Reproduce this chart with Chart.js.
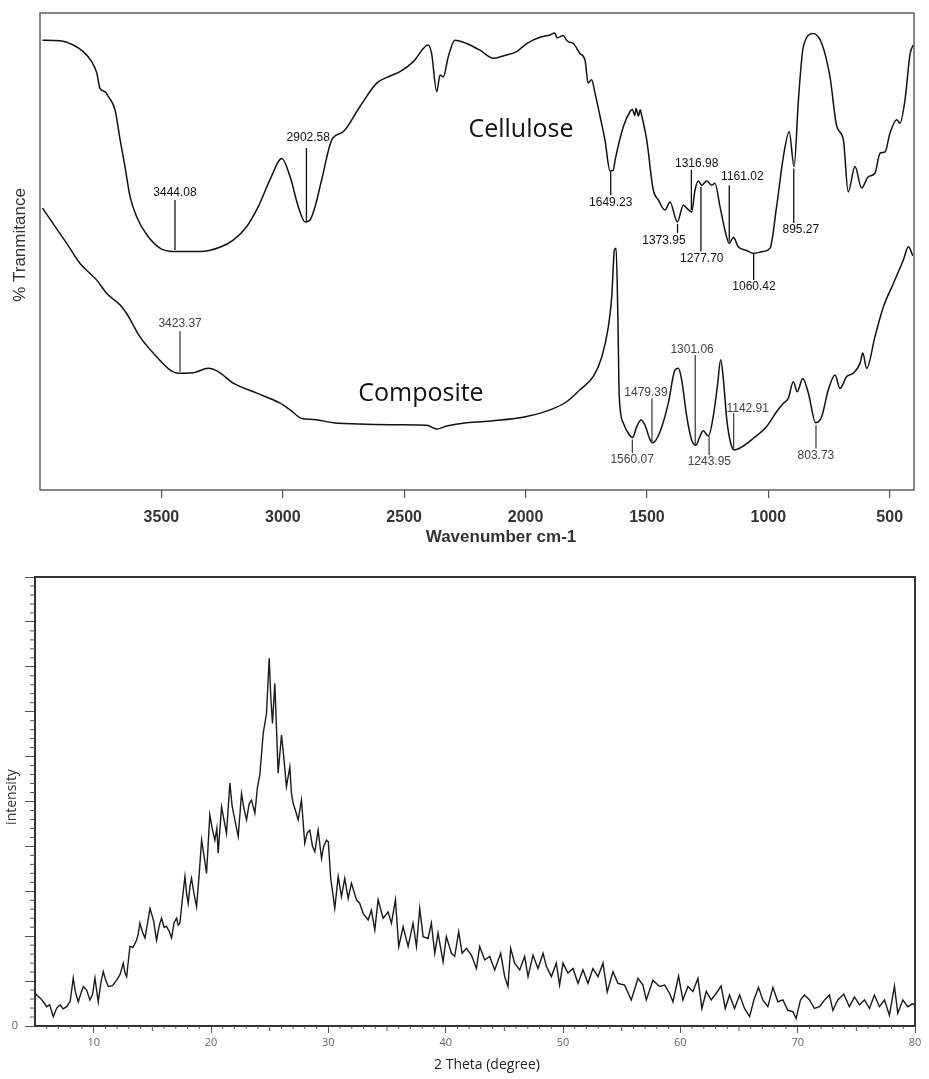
<!DOCTYPE html>
<html>
<head>
<meta charset="utf-8">
<script src="https://cdn.jsdelivr.net/npm/chart.js@4.4.1/dist/chart.umd.min.js"></script>
<style>
  body { margin: 0; background: #fff; }
  #ftir { position: absolute; left: 0; top: 0; width: 929px; height: 560px; }
  #xrd { position: absolute; left: 0; top: 560px; width: 929px; height: 519px; }
</style>
</head>
<body>
<div id="ftir"><canvas id="ftir-chart"></canvas></div>
<div id="xrd"><canvas id="xrd-chart"></canvas></div>
<script>
// FTIR: wavenumber ticks and both spectra (% transmittance)
const wnTicks = [3500, 3000, 2500, 2000, 1500, 1000, 500];

const celluloseWn = [3990, 3918, 3863, 3822, 3787, 3766, 3753, 3732, 3719, 3691, 3670, 3650, 3629, 3602, 3560, 3506, 3451, 3341, 3259, 3204,
  3149, 3101, 3053, 3004, 2970, 2936, 2908, 2888, 2867, 2840, 2798, 2751, 2682, 2613, 2558, 2517, 2462, 2401, 2387, 2366,
  2352, 2339, 2318, 2291, 2243, 2188, 2133, 2092, 2037, 1995, 1941, 1899, 1880, 1870, 1858, 1845, 1831, 1820, 1803, 1776,
  1755, 1742, 1728, 1714, 1693, 1673, 1652, 1639, 1631, 1597, 1570, 1560, 1550, 1545, 1535, 1528, 1522, 1501, 1474, 1453,
  1426, 1405, 1375, 1350, 1334, 1316, 1302, 1288, 1274, 1254, 1233, 1220, 1199, 1179, 1161, 1144, 1124, 1089, 1062, 1021,
  993, 966, 938, 914, 894, 876, 856, 815, 780, 746, 718, 691, 671, 643, 616, 588, 561, 540, 519, 499,
  471, 458, 437, 416, 403];
const celluloseT = [94.3, 94.2, 93.3, 91.9, 89.8, 87.4, 84.2, 83.5, 82.5, 79.7, 73.4, 67.8, 61.5, 57.3, 53.5, 50.7, 50.0, 50.0, 50.9, 52.4,
  55.2, 59.4, 65.0, 69.5, 65.7, 59.4, 56.2, 56.6, 59.4, 65.0, 73.4, 75.1, 80.4, 85.3, 86.8, 87.7, 89.8, 93.3, 91.5, 83.5,
  87.0, 86.6, 90.9, 94.3, 93.6, 92.2, 90.5, 91.0, 91.9, 93.6, 94.9, 95.4, 95.8, 94.8, 95.0, 95.3, 94.3, 93.9, 93.6, 91.5,
  90.1, 85.3, 86.0, 83.2, 78.3, 73.4, 66.9, 67.0, 69.2, 76.2, 79.3, 79.8, 78.5, 80.0, 78.4, 79.7, 78.6, 73.4, 62.9, 60.8,
  58.7, 60.4, 56.2, 59.7, 59.0, 58.3, 62.9, 64.8, 63.9, 64.8, 63.9, 64.3, 59.4, 54.5, 51.7, 53.0, 51.0, 50.2, 49.6, 50.0,
  50.7, 59.4, 69.9, 75.1, 67.8, 81.8, 92.9, 95.7, 93.6, 86.6, 76.2, 73.4, 62.5, 67.8, 63.3, 65.7, 66.4, 70.6, 70.9, 74.8,
  77.6, 76.9, 81.8, 91.5, 93.3];

const compositeWn = [3990, 3890, 3835, 3794, 3766, 3725, 3670, 3643, 3588, 3519, 3465, 3430, 3368, 3307, 3266, 3204, 3107, 3011, 2970, 2922,
  2874, 2792, 2654, 2517, 2407, 2366, 2325, 2243, 2133, 1995, 1899, 1831, 1776, 1721, 1686, 1659, 1645, 1634, 1627, 1620,
  1614, 1597, 1577, 1559, 1542, 1524, 1508, 1487, 1476, 1446, 1412, 1384, 1371, 1357, 1336, 1316, 1298, 1282, 1268, 1247,
  1227, 1210, 1196, 1185, 1171, 1155, 1141, 1110, 1062, 1007, 966, 938, 918, 897, 881, 858, 835, 805, 780, 753,
  725, 705, 677, 650, 622, 611, 595, 561, 526, 485, 444, 423, 405];
const compositeT = [59.1, 51.7, 47.5, 45.4, 44.0, 41.2, 38.8, 37.0, 32.1, 27.9, 25.2, 24.5, 24.6, 25.5, 24.8, 22.4, 20.3, 18.2, 16.8, 15.0,
  14.8, 14.1, 13.8, 13.7, 13.6, 12.8, 13.4, 14.1, 14.5, 15.4, 16.8, 18.5, 21.0, 23.8, 27.9, 34.2, 40.5, 50.3, 50.7, 37.0,
  19.6, 14.0, 11.9, 11.0, 13.3, 14.7, 13.6, 10.5, 9.9, 12.2, 18.2, 25.2, 25.5, 23.1, 15.4, 10.5, 9.4, 11.2, 12.4, 11.3,
  15.4, 21.7, 27.3, 23.1, 14.7, 9.8, 8.4, 9.0, 10.8, 13.3, 16.4, 18.2, 19.2, 22.7, 20.6, 23.4, 20.3, 14.1, 15.4, 21.0,
  24.1, 21.3, 23.8, 24.5, 26.6, 28.7, 25.5, 32.1, 38.4, 43.3, 48.2, 51.0, 49.1];

const cellulosePeaks = ['3444.08', '2902.58', '1649.23', '1373.95', '1316.98', '1277.70', '1161.02', '1060.42', '895.27'];
const compositePeaks = ['3423.37', '1560.07', '1479.39', '1301.06', '1243.95', '1142.91', '803.73'];

// XRD: 2 theta ticks and the pattern (intensity in tick units)
const thetaTicks = [10, 20, 30, 40, 50, 60, 70, 80];
const intensityTicks = [0, 1, 2, 3, 4, 5, 6, 7, 8, 9, 10];

const xrdTheta = [5.00, 5.14, 5.45, 5.71, 5.99, 6.25, 6.56, 6.85, 7.13, 7.40, 7.70, 8.00, 8.26, 8.45, 8.69, 8.90, 9.12, 9.40, 9.68, 9.90,
  10.11, 10.25, 10.39, 10.60, 10.82, 11.05, 11.25, 11.60, 11.96, 12.25, 12.52, 12.65, 12.81, 13.09, 13.35, 13.66, 13.80, 13.94, 14.15, 14.37,
  14.60, 14.80, 15.10, 15.36, 15.60, 15.79, 16.00, 16.21, 16.45, 16.64, 16.85, 17.07, 17.20, 17.35, 17.55, 17.78, 17.92, 18.06, 18.20, 18.34,
  18.55, 18.77, 19.00, 19.20, 19.40, 19.62, 19.90, 20.10, 20.33, 20.50, 20.61, 20.90, 21.10, 21.32, 21.61, 21.80, 22.03, 22.32, 22.60, 22.80,
  23.03, 23.25, 23.45, 23.74, 23.95, 24.16, 24.45, 24.73, 24.96, 25.10, 25.24, 25.44, 25.60, 25.72, 26.01, 26.20, 26.43, 26.72, 26.85, 27.00,
  27.20, 27.43, 27.71, 27.99, 28.20, 28.42, 28.65, 28.85, 29.13, 29.42, 29.60, 29.84, 30.00, 30.20, 30.55, 30.84, 31.12, 31.40, 31.69, 31.97,
  32.40, 32.68, 32.96, 33.39, 33.67, 33.96, 34.24, 34.67, 35.09, 35.38, 35.72, 36.00, 36.37, 36.80, 37.22, 37.51, 37.79, 38.08, 38.50, 38.78,
  39.07, 39.35, 39.78, 40.06, 40.49, 40.77, 41.11, 41.40, 41.77, 42.19, 42.62, 42.90, 43.33, 43.75, 44.18, 44.69, 45.03, 45.31, 45.54, 45.88,
  46.31, 46.73, 47.02, 47.44, 47.87, 48.30, 48.58, 49.01, 49.43, 49.71, 50.00, 50.42, 50.85, 51.28, 51.70, 52.13, 52.55, 52.98, 53.41, 53.77,
  54.26, 54.68, 55.25, 55.82, 56.39, 56.81, 57.10, 57.66, 58.23, 58.66, 59.08, 59.37, 59.85, 60.22, 60.65, 61.07, 61.50, 61.84, 62.21, 62.63,
  63.06, 63.48, 63.83, 64.19, 64.62, 65.05, 65.47, 65.90, 66.27, 66.66, 67.03, 67.46, 67.89, 68.31, 68.74, 69.16, 69.59, 69.87, 70.24, 70.58,
  71.01, 71.43, 71.86, 72.29, 72.71, 73.00, 73.42, 73.93, 74.41, 74.84, 75.27, 75.69, 76.12, 76.54, 76.97, 77.40, 77.82, 78.25, 78.53, 78.96,
  79.38, 79.81, 80.00];
const xrdIntensity = [0.75, 0.69, 0.62, 0.54, 0.43, 0.47, 0.21, 0.40, 0.47, 0.38, 0.43, 0.55, 1.07, 0.75, 0.54, 0.72, 0.88, 0.80, 0.58, 0.70,
  1.07, 0.80, 0.54, 0.95, 1.21, 1.00, 0.88, 0.90, 1.02, 1.15, 1.40, 1.20, 1.10, 1.77, 1.75, 1.91, 2.05, 2.29, 2.10, 1.96,
  2.30, 2.62, 2.35, 1.91, 2.25, 2.40, 2.20, 2.22, 2.10, 1.96, 2.30, 2.40, 2.25, 2.29, 2.80, 3.33, 2.95, 2.73, 3.10, 3.29,
  2.95, 2.66, 3.40, 4.14, 3.80, 3.40, 4.70, 4.40, 4.14, 4.40, 3.85, 4.88, 4.60, 4.29, 5.41, 4.90, 4.59, 4.22, 5.18, 4.85,
  4.59, 4.95, 5.03, 4.74, 5.30, 5.59, 6.52, 6.96, 8.19, 7.30, 6.74, 7.63, 6.50, 5.63, 6.48, 6.00, 5.33, 5.77, 5.20, 4.96,
  4.80, 4.59, 5.03, 4.07, 4.30, 4.36, 4.00, 3.88, 4.36, 3.73, 4.00, 4.14, 4.10, 3.30, 2.62, 3.33, 2.88, 3.29, 2.84, 3.18,
  2.81, 2.73, 2.51, 2.36, 2.58, 2.14, 2.81, 2.40, 2.54, 2.29, 2.81, 1.77, 2.21, 1.77, 2.29, 1.77, 2.62, 1.99, 1.95, 2.29,
  1.62, 2.07, 1.43, 1.99, 1.62, 1.55, 2.10, 1.62, 1.73, 1.58, 1.28, 1.77, 1.47, 1.55, 1.25, 1.62, 1.10, 0.88, 1.73, 1.40,
  1.25, 1.55, 1.10, 1.58, 1.28, 1.62, 1.33, 1.10, 1.40, 0.91, 1.40, 1.18, 1.28, 0.95, 1.25, 0.95, 1.28, 1.10, 1.40, 0.76,
  1.21, 0.95, 0.91, 0.58, 1.06, 0.91, 0.58, 1.02, 0.88, 0.91, 0.73, 0.54, 1.11, 0.58, 0.88, 0.77, 1.06, 0.39, 0.77, 0.58,
  0.73, 0.89, 0.39, 0.69, 0.39, 0.69, 0.39, 0.21, 0.58, 0.86, 0.58, 0.43, 0.86, 0.54, 0.58, 0.35, 0.32, 0.17, 0.58, 0.69,
  0.58, 0.39, 0.43, 0.58, 0.69, 0.35, 0.58, 0.71, 0.43, 0.65, 0.47, 0.58, 0.39, 0.69, 0.43, 0.58, 0.24, 0.89, 0.28, 0.58,
  0.43, 0.50, 0.45];

const toPoints = (xs, ys) => xs.map((x, i) => ({ x: x, y: ys[i] }));

// draws the outer box round the plot area
const frame = {
  id: "frame",
  afterDraw(chart, args, opts) {
    const { ctx, chartArea: a } = chart;
    ctx.save();
    ctx.strokeStyle = opts.color;
    ctx.lineWidth = opts.width;
    ctx.strokeRect(a.left, a.top, a.right - a.left, a.bottom - a.top);
    ctx.restore();
  },
};

// free text: axis titles placed by pixel, curve names placed by data value
const texts = {
  id: "texts",
  afterDraw(chart, args, opts) {
    const { ctx, scales } = chart;
    ctx.save();
    ctx.textAlign = "center";
    ctx.textBaseline = "middle";
    opts.items.forEach((t) => {
      const x = t.data ? scales.x.getPixelForValue(t.x) : t.x;
      const y = t.data ? scales.y.getPixelForValue(t.y) : t.y;
      ctx.font = t.font;
      ctx.fillStyle = t.color;
      ctx.save();
      ctx.translate(x, y);
      if (t.rotate) ctx.rotate(t.rotate);
      ctx.fillText(t.text, 0, 0);
      ctx.restore();
    });
    ctx.restore();
  },
};

// peak markers: a short vertical line at the peak wavenumber plus its label
const peaks = {
  id: "peaks",
  afterDatasetsDraw(chart, args, opts) {
    const { ctx, scales: { x, y } } = chart;
    ctx.save();
    ctx.textAlign = "center";
    ctx.textBaseline = "middle";
    opts.groups.forEach((g) => {
      ctx.strokeStyle = g.color;
      ctx.fillStyle = g.color;
      ctx.lineWidth = 1.3;
      ctx.font = g.font;
      g.labels.forEach((label, i) => {
        const [top, bottom, textWn, textT] = g.marks[i];
        const px = x.getPixelForValue(parseFloat(label));
        ctx.beginPath();
        ctx.moveTo(px, y.getPixelForValue(top));
        ctx.lineTo(px, y.getPixelForValue(bottom));
        ctx.stroke();
        ctx.fillText(label, x.getPixelForValue(textWn), y.getPixelForValue(textT));
      });
    });
    ctx.restore();
  },
};

// small ticks that Chart.js has no option for
const minorTicks = {
  id: "minorTicks",
  afterDraw(chart) {
    const { ctx, scales: { x, y } } = chart;
    ctx.save();
    ctx.strokeStyle = "#555";
    ctx.lineWidth = 1;
    ctx.beginPath();
    for (let d = 6; d < 80; d++) {
      if (d % 10 === 0) continue;
      const len = d % 5 === 0 ? 5 : 3;
      const px = x.getPixelForValue(d);
      ctx.moveTo(px, y.bottom);
      ctx.lineTo(px, y.bottom + len);
    }
    for (let k = 1; k < 50; k++) {
      if (k % 5 === 0) continue;
      const py = y.getPixelForValue(k / 5);
      ctx.moveTo(x.left, py);
      ctx.lineTo(x.left - 5, py);
    }
    ctx.stroke();
    ctx.restore();
  },
};

new Chart(document.getElementById("ftir-chart"), {
  type: "line",
  data: {
    datasets: [
      {
        label: "Cellulose",
        data: toPoints(celluloseWn, celluloseT),
        borderColor: "#111",
        borderWidth: 1.5,
        pointRadius: 0,
        cubicInterpolationMode: "monotone",
      },
      {
        label: "Composite",
        data: toPoints(compositeWn, compositeT),
        borderColor: "#111",
        borderWidth: 1.5,
        pointRadius: 0,
        cubicInterpolationMode: "monotone",
      },
    ],
  },
  options: {
    responsive: true,
    maintainAspectRatio: false,
    animation: false,
    layout: { padding: { top: 13, right: 15, left: 40, bottom: 0 } },
    plugins: {
      legend: { display: false },
      tooltip: { enabled: false },
      frame: { color: "#555", width: 1.4 },
      texts: {
        items: [
          { text: "Cellulose", data: true, x: 2019, y: 75.5, font: "25px 'Open Sans'", color: "#111" },
          { text: "Composite", data: true, x: 2431, y: 20.1, font: "25px 'Open Sans'", color: "#111" },
          { text: "Wavenumber cm-1", x: 501, y: 537, font: "bold 17px 'Liberation Sans'", color: "#333" },
          { text: "% Tranmitance", x: 20, y: 245, rotate: -Math.PI / 2, font: "17px 'Liberation Sans'", color: "#333" },
        ],
      },
      peaks: {
        groups: [
          {
            labels: cellulosePeaks,
            color: "#111",
            font: "12px 'Liberation Sans'",
            marks: [
              [60.8, 50.3, 3444, 62.3],
              [71.7, 56.2, 2895, 73.8],
              [66.7, 61.8, 1649, 60.2],
              [55.8, 53.9, 1430, 52.2],
              [67.1, 58.7, 1295, 68.5],
              [63.6, 50.0, 1274, 48.4],
              [63.9, 52.1, 1107, 65.6],
              [49.5, 44.0, 1059, 42.6],
              [67.4, 56.0, 866, 54.6],
            ],
          },
          {
            labels: compositePeaks,
            color: "#444",
            font: "12px 'Liberation Sans'",
            marks: [
              [33.3, 24.8, 3423, 34.8],
              [10.6, 7.8, 1561, 6.3],
              [19.2, 9.8, 1504, 20.4],
              [28.3, 9.4, 1314, 29.5],
              [11.2, 7.3, 1243, 5.9],
              [16.1, 8.4, 1085, 17.1],
              [13.6, 8.7, 804, 7.1],
            ],
          },
        ],
      },
    },
    scales: {
      x: {
        type: "linear",
        reverse: true,
        min: 400,
        max: 4000,
        afterBuildTicks: (s) => { s.ticks = wnTicks.map((v) => ({ value: v })); },
        afterFit: (s) => { s.height = 70; },
        border: { display: false },
        grid: { drawOnChartArea: false, tickLength: 8, color: "#555", lineWidth: 1.2 },
        ticks: {
          color: "#333",
          padding: 10,
          autoSkip: false,
          font: { family: "'Liberation Sans'", size: 16, weight: "bold" },
          callback: (v) => String(v),
        },
      },
      y: { display: false, min: 0, max: 100 },
    },
  },
  plugins: [frame, texts, peaks],
});

new Chart(document.getElementById("xrd-chart"), {
  type: "line",
  data: {
    datasets: [
      {
        label: "XRD",
        data: toPoints(xrdTheta, xrdIntensity),
        borderColor: "#1a1a1a",
        borderWidth: 1.4,
        pointRadius: 0,
        tension: 0,
      },
    ],
  },
  options: {
    responsive: true,
    maintainAspectRatio: false,
    animation: false,
    layout: { padding: { top: 17, right: 14, left: 0, bottom: 0 } },
    plugins: {
      legend: { display: false },
      tooltip: { enabled: false },
      frame: { color: "#333", width: 2 },
      texts: {
        items: [
          { text: "2 Theta (degree)", x: 487, y: 505, font: "14px 'Open Sans'", color: "#222" },
          { text: "intensity", x: 12, y: 237, rotate: -Math.PI / 2, font: "14px 'Open Sans'", color: "#333" },
        ],
      },
    },
    scales: {
      x: {
        type: "linear",
        min: 5,
        max: 80,
        afterBuildTicks: (s) => { s.ticks = thetaTicks.map((v) => ({ value: v })); },
        afterFit: (s) => { s.height = 53; },
        border: { display: false },
        grid: { drawOnChartArea: false, tickLength: 7, color: "#555" },
        ticks: { color: "#666", padding: 3, autoSkip: false, font: { family: "'Open Sans'", size: 11 } },
      },
      y: {
        min: 0,
        max: 10,
        afterBuildTicks: (s) => { s.ticks = intensityTicks.map((v) => ({ value: v })); },
        afterFit: (s) => { s.width = 35; },
        border: { display: false },
        grid: { drawOnChartArea: false, tickLength: 10, color: "#555" },
        ticks: {
          color: "#666",
          padding: 7,
          autoSkip: false,
          font: { family: "'Open Sans'", size: 11 },
          callback: (v) => (v === 0 ? "0" : ""),
        },
      },
    },
  },
  plugins: [frame, texts, minorTicks],
});
</script>
</body>
</html>
